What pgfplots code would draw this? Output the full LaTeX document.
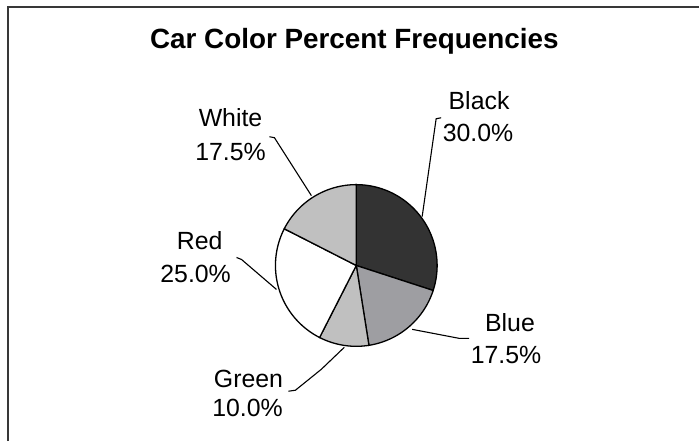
\documentclass[border=0pt]{standalone}
\usepackage{pgfplots}
\pgfplotsset{compat=1.18}
\usepackage{pgfplotstable}
\usepackage{fontspec}
\setmainfont{Liberation Sans}
\definecolor{pieblack}{HTML}{333333}
\definecolor{pieblue}{HTML}{9E9EA2}
\definecolor{piegreen}{HTML}{C0C0C0}
\definecolor{piered}{HTML}{FFFFFF}
\definecolor{piewhite}{HTML}{C0C0C0}
\definecolor{frame}{HTML}{383838}

% percent of cars by colour, clockwise from 12 o'clock
\pgfplotstableread{
name  value shade
Black 30.0  pieblack
Blue  17.5  pieblue
Green 10.0  piegreen
Red   25.0  piered
White 17.5  piewhite
}\cardata

\begin{document}
\begin{tikzpicture}
\begin{axis}[
  width=700bp, height=442bp, scale only axis,
  xmin=0, xmax=700, ymin=0, ymax=442, y dir=reverse,
  hide axis, clip=false,
]
\path (axis cs:0,0) rectangle (axis cs:700,442);
% frame (only top and left edges show)
\draw[frame, line width=2.8bp] (axis cs:8,442) -- (axis cs:8,7) -- (axis cs:700,7);

\pgfmathsetmacro\cum{0}
\pgfplotsforeachungrouped \i in {0,...,4}{%
  \pgfplotstablegetelem{\i}{value}\of\cardata \let\val\pgfplotsretval
  \pgfplotstablegetelem{\i}{shade}\of\cardata \let\shade\pgfplotsretval
  \pgfmathsetmacro\aend{90-3.6*\cum}
  \pgfmathsetmacro\astart{90-3.6*(\cum+\val)}
  \edef\doslice{\noexpand\addplot[fill=\shade, draw=black, line width=1.3bp,
    domain=\astart:\aend, samples=60]
    ({357+81*cos(x)},{266-81*sin(x)}) -- (axis cs:357,266) -- cycle;}
  \doslice
  \pgfmathsetmacro\cum{\cum+\val}
}

% leader lines
\draw[line width=1.1bp] (axis cs:270,137) -- (axis cs:275,138) -- (axis cs:312,196);
\draw[line width=1.1bp] (axis cs:442,118) -- (axis cs:437,119) -- (axis cs:423,217);
\draw[line width=1.1bp] (axis cs:237,258) -- (axis cs:242,260) -- (axis cs:277,290);
\draw[line width=1.1bp] (axis cs:289,392) -- (axis cs:296,391) -- (axis cs:322,370) -- (axis cs:345,348);
\draw[line width=1.1bp] (axis cs:413,330) -- (axis cs:460,339) -- (axis cs:470,339);

% title and labels
\node[anchor=base, font=\fontsize{28}{32}\selectfont\bfseries] at (axis cs:355,49) {Car Color Percent Frequencies};
\begin{scope}[every node/.style={anchor=base, font=\fontsize{25}{28}\selectfont}]
\node at (axis cs:231,127) {White};
\node at (axis cs:231,161) {17.5\%};
\node at (axis cs:480,110) {Black};
\node at (axis cs:479,142) {30.0\%};
\node at (axis cs:200,250) {Red};
\node at (axis cs:196,283) {25.0\%};
\node at (axis cs:511,332) {Blue};
\node at (axis cs:507,364) {17.5\%};
\node at (axis cs:249,388) {Green};
\node at (axis cs:248,417) {10.0\%};
\end{scope}
\end{axis}
\end{tikzpicture}
\end{document}
